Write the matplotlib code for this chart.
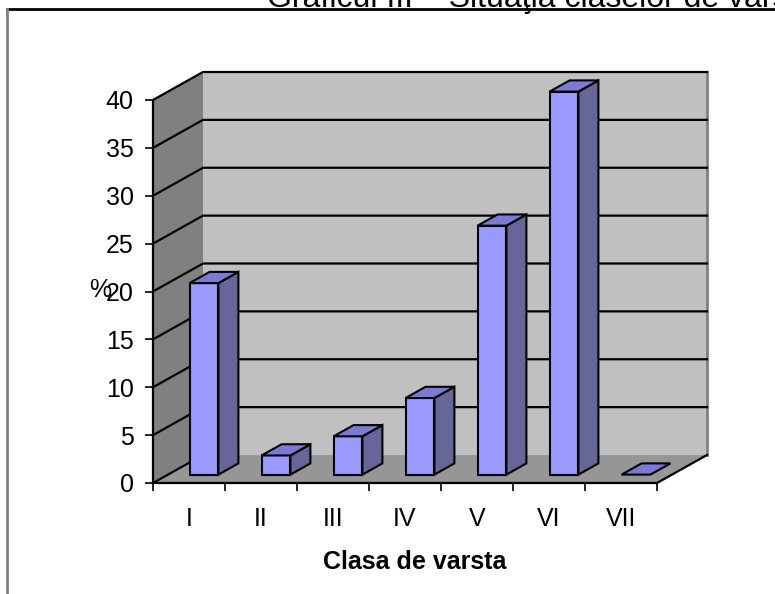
import matplotlib.pyplot as plt
import matplotlib.patches as patches
from matplotlib.lines import Line2D

# Data
categories = ['I', 'II', 'III', 'IV', 'V', 'VI', 'VII']
values = [20, 2, 4, 8, 26, 40, 0]
y_ticks = [0, 5, 10, 15, 20, 25, 30, 35, 40]
title = 'Graficul III – Situaţia claselor de vârstă'

plt.rcParams['font.family'] = ['Liberation Sans', 'DejaVu Sans']

W, H = 775, 594
fig = plt.figure(figsize=(W / 100, H / 100), dpi=100)

# front plane of the 3d box
ax = fig.add_axes([153 / W, 1 - 483 / H, 504 / W, 383 / H])
n = len(categories)
ymax = y_ticks[-1]
ax.set_xlim(0, n)
ax.set_ylim(0, ymax)
ax.patch.set_visible(False)

# depth of the box in data units (50 px right, 28 px up)
DX = 50 / (504 / n)
DY = 28 / (383 / ymax)


def shift(pts, d):
    return [(x + d * DX, y + d * DY) for x, y in pts]


def poly(pts, fc, ec='none', lw=1.5, z=1):
    p = patches.Polygon(pts, closed=True, facecolor=fc, edgecolor=ec,
                        linewidth=lw, clip_on=False, zorder=z, joinstyle='miter')
    ax.add_patch(p)


# walls and floor
poly(shift([(0, 0), (n, 0), (n, ymax), (0, ymax)], 1), '#c0c0c0')
poly([(0, 0), (0, ymax)] + shift([(0, ymax), (0, 0)], 1), '#808080')
poly([(0, 0), (n, 0)] + shift([(n, 0), (0, 0)], 1), '#969696')

# right edge of back wall
ax.plot([n + DX, n + DX], [DY, ymax + DY], color='#808080', lw=2,
        clip_on=False, zorder=1.5)

# gridlines
for t in y_ticks:
    pts = [(0, t)] + shift([(0, t)], 1)
    if t > 0:
        pts += shift([(n, t)], 1)
    xs, ys = zip(*pts)
    ax.plot(xs, ys, color='black', lw=1.6, clip_on=False, zorder=1.6)

# floor edges
ax.plot([0, n], [0, 0], color='black', lw=1.6, clip_on=False, zorder=1.6)
xs, ys = zip(*([(n, 0)] + shift([(n, 0)], 1)))
ax.plot(xs, ys, color='black', lw=1.6, clip_on=False, zorder=1.6)

# bars
bw = 0.4
d0, d1 = 0.3, 0.7
for i, v in enumerate(values):
    x0 = i + (1 - bw) / 2
    x1 = x0 + bw
    if v > 0:
        poly(shift([(x0, 0), (x1, 0), (x1, v), (x0, v)], d0), '#9999ff', 'black', z=3)
        poly(shift([(x1, 0), (x1, v)], d0) + shift([(x1, v), (x1, 0)], d1),
             '#666699', 'black', z=3)
    poly(shift([(x0, v), (x1, v)], d0) + shift([(x1, v), (x0, v)], d1),
         '#7b7bd6', 'black', z=3)

# axes styling
for s in ['top', 'right', 'bottom']:
    ax.spines[s].set_visible(False)
ax.spines['left'].set_linewidth(1.6)
ax.spines['left'].set_zorder(2)
ax.set_yticks(y_ticks)
ax.tick_params(axis='y', length=6, width=1.2, labelsize=18, pad=8)
ax.set_xticks(range(n + 1))
ax.set_xticklabels([])
ax.tick_params(axis='x', which='major', length=6, width=1.2)
ax.set_xticks([i + 0.5 for i in range(n)], minor=True)
ax.set_xticklabels(categories, minor=True)
ax.tick_params(axis='x', which='minor', length=0, labelsize=18, pad=17)

fig.text(100 / W, 1 - 290 / H, '%', ha='center', va='center', fontsize=18)
fig.text(415 / W, 1 - 562 / H, 'Clasa de varsta', ha='center', va='center',
         fontsize=18, fontweight='bold')

# title (cut off at the top, as in the original) and chart frame
fig.text(267 / W, 1 - 7 / H, title, ha='left', va='baseline', fontsize=23)
fig.add_artist(Line2D([7 / W, 1], [1 - 9 / H, 1 - 9 / H], color='black', lw=2))
fig.add_artist(Line2D([7 / W, 7 / W], [0, 1 - 9 / H], color='#808080', lw=2))

fig.savefig('out.png', dpi=100)
